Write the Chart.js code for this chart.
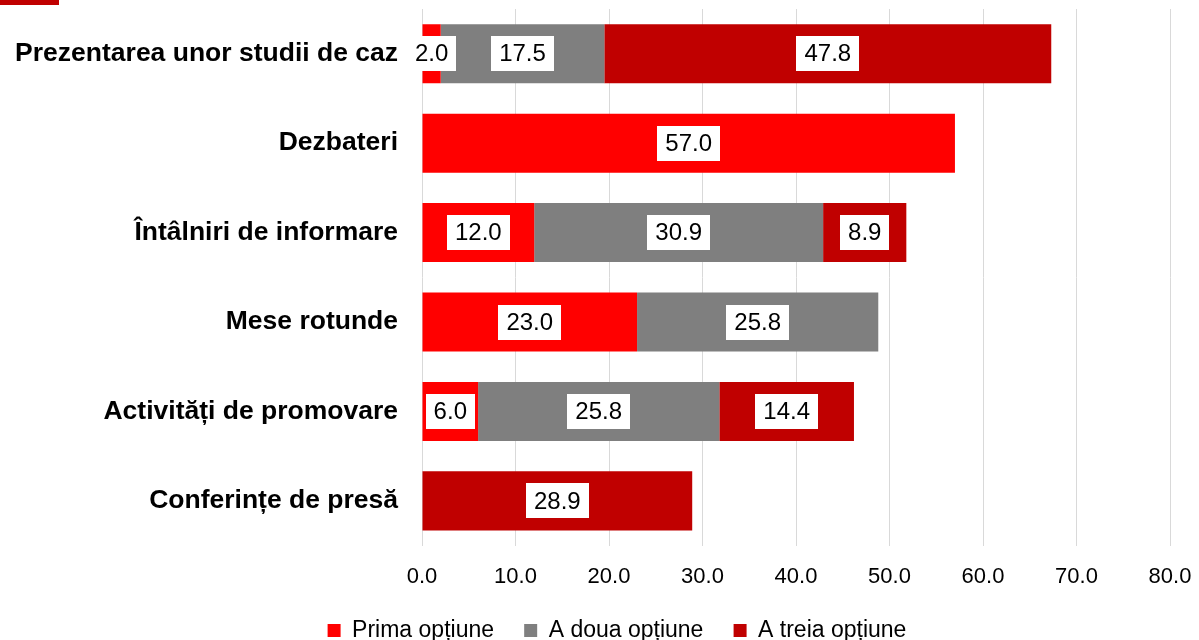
<!DOCTYPE html>
<html>
<head>
<meta charset="utf-8">
<script src="https://cdn.jsdelivr.net/npm/chart.js@4.4.1/dist/chart.umd.min.js"></script>
<style>
  html, body { margin: 0; padding: 0; background: #fff; }
  #wrap { position: relative; width: 1199px; height: 640px; }
  #corner { position: absolute; left: 0; top: 0; width: 59px; height: 5px; background: #C00000; }
</style>
</head>
<body>
<div id="wrap">
  <canvas id="c" width="1199" height="640"></canvas>
  <div id="corner"></div>
</div>
<script>
const categories = [
  "Prezentarea unor studii de caz",
  "Dezbateri",
  "Întâlniri de informare",
  "Mese rotunde",
  "Activități de promovare",
  "Conferințe de presă"
];
const seriesNames = ["Prima opțiune", "A doua opțiune", "A treia opțiune"];
const primaOptiune  = [2.0, 57.0, 12.0, 23.0, 6.0, null];
const aDouaOptiune  = [17.5, null, 30.9, 25.8, 25.8, null];
const aTreiaOptiune = [47.8, null, 8.9, null, 14.4, 28.9];
const xTicks = [0, 10, 20, 30, 40, 50, 60, 70, 80];

const colors = ["#FF0000", "#7F7F7F", "#C00000"];
const FONT = "'Liberation Sans', Arial, Helvetica, sans-serif";

const labelPlugin = {
  id: 'boxLabels',
  afterDatasetsDraw(chart) {
    const ctx = chart.ctx;
    ctx.save();
    ctx.font = "24px " + FONT;
    ctx.textAlign = 'center';
    ctx.textBaseline = 'middle';
    chart.data.datasets.forEach((ds, di) => {
      const meta = chart.getDatasetMeta(di);
      meta.data.forEach((el, i) => {
        const v = ds.data[i];
        if (v === null || v === undefined) return;
        const p = el.getCenterPoint();
        const txt = v.toFixed(1);
        const w = ctx.measureText(txt).width + 16;
        const h = 35;
        ctx.fillStyle = '#FFFFFF';
        ctx.fillRect(Math.round(p.x - w / 2), Math.round(p.y - h / 2), Math.round(w), h);
        ctx.fillStyle = '#000000';
        ctx.fillText(txt, p.x, p.y + 1);
      });
    });
    ctx.restore();
  }
};

// shift the legend block slightly right, as in the reference
const legendShift = {
  id: 'legendShift',
  afterLayout(chart) {
    const l = chart.legend;
    if (l) { l.left += 32; l.right += 32; }
  }
};

new Chart(document.getElementById('c'), {
  type: 'bar',
  data: {
    labels: categories,
    datasets: [
      { label: seriesNames[0], data: primaOptiune, backgroundColor: colors[0] },
      { label: seriesNames[1], data: aDouaOptiune, backgroundColor: colors[1] },
      { label: seriesNames[2], data: aTreiaOptiune, backgroundColor: colors[2] }
    ]
  },
  options: {
    indexAxis: 'y',
    responsive: false,
    animation: false,
    devicePixelRatio: 1,
    layout: { padding: { left: 0, right: 29, top: 9, bottom: -12 } },
    datasets: { bar: { categoryPercentage: 0.66, barPercentage: 1.0 } },
    scales: {
      x: {
        stacked: true,
        min: 0, max: 80,
        afterBuildTicks(scale) { scale.ticks = xTicks.map(v => ({ value: v })); },
        afterFit(scale) { scale.paddingLeft = 0; scale.paddingRight = 0; },
        grid: { color: '#D9D9D9', lineWidth: 1, drawTicks: false },
        border: { display: false },
        ticks: {
          padding: 18,
          color: '#000',
          font: { family: FONT, size: 22 },
          callback: v => Number(v).toFixed(1)
        }
      },
      y: {
        stacked: true,
        afterFit(scale) { scale.width = 422; scale.paddingTop = 0; scale.paddingBottom = 0; },
        grid: { display: false, drawTicks: false },
        border: { display: false },
        ticks: {
          padding: 24,
          color: '#000',
          font: { family: FONT, size: 26.5, weight: 'bold' }
        }
      }
    },
    plugins: {
      legend: {
        position: 'bottom',
        labels: {
          color: '#000',
          boxWidth: 13, boxHeight: 13,
          padding: 11,
          font: { family: FONT, size: 23 },
          generateLabels(chart) {
            const items = Chart.defaults.plugins.legend.labels.generateLabels(chart);
            items.forEach((it, i) => {
              it.lineWidth = 0;
              if (i < items.length - 1) it.text = it.text + '   ';
            });
            return items;
          }
        }
      },
      tooltip: { enabled: false }
    }
  },
  plugins: [labelPlugin, legendShift]
});
</script>
</body>
</html>
